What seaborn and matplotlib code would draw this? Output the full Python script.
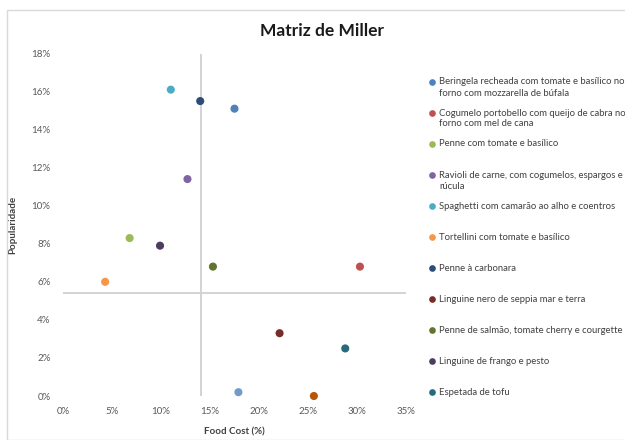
import textwrap

import matplotlib
matplotlib.use("Agg")
import matplotlib.pyplot as plt
from matplotlib.patches import Rectangle
import pandas as pd
import seaborn as sns

# Menu engineering data: food cost (%) vs. popularity (%) per dish
pratos = [
    "Beringela recheada com tomate e basílico no forno com mozzarella de búfala",
    "Cogumelo portobello com queijo de cabra no forno com mel de cana",
    "Penne com tomate e basílico",
    "Ravioli de carne, com cogumelos, espargos e rúcula",
    "Spaghetti com camarão ao alho e coentros",
    "Tortellini com tomate e basílico",
    "Penne à carbonara",
    "Linguine nero de seppia mar e terra",
    "Penne de salmão, tomate cherry e courgette",
    "Linguine de frango e pesto",
    "Espetada de tofu",
    "Prato 12",
    "Prato 13",
]
food_cost = [17.5, 30.3, 6.8, 12.7, 11.0, 4.3, 14.0, 22.1, 15.3, 9.9, 28.8, 17.9, 25.6]
popularidade = [15.1, 6.8, 8.3, 11.4, 16.1, 6.0, 15.5, 3.3, 6.8, 7.9, 2.5, 0.2, 0.0]
cores = [
    "#4F81BD", "#C0504D", "#9BBB59", "#8064A2", "#4BACC6", "#F79646",
    "#2C4D75", "#772C2A", "#5F7530", "#4D3B62", "#276A7C", "#729ACA", "#B65708",
]
n_legenda = 11  # entries shown in the legend box

# Quadrant thresholds (average food cost, 70% of the mean popularity)
limite_custo = 14.1
limite_popularidade = 5.4

x_ticks = [0, 5, 10, 15, 20, 25, 30, 35]
y_ticks = [0, 2, 4, 6, 8, 10, 12, 14, 16, 18]

sns.set_style("white")
plt.rcParams["font.family"] = ["Lato", "DejaVu Sans"]

W, H = 625, 440
fig = plt.figure(figsize=(W / 100, H / 100), dpi=100)

# light chart border
fig.add_artist(Rectangle((7 / W, 0), 1, 1 - 10 / H, transform=fig.transFigure,
                         fill=False, edgecolor="#D9D9D9", linewidth=1.0))

ax = fig.add_axes([63 / W, 1 - 396 / H, (406 - 63) / W, (396 - 53.5) / H])

df = pd.DataFrame({"prato": pratos, "food_cost": food_cost, "popularidade": popularidade})

ax.vlines(limite_custo, 0, 18, color="#D0D0D0", linewidth=1.3, zorder=1)
ax.hlines(limite_popularidade, 0, 35, color="#D0D0D0", linewidth=1.3, zorder=1)

sns.scatterplot(data=df, x="food_cost", y="popularidade", hue="prato",
                palette=dict(zip(pratos, cores)), s=34, linewidth=0,
                legend=False, ax=ax, zorder=3, clip_on=False)

ax.set_xlim(0, 35)
ax.set_ylim(0, 18)
ax.set_xticks(x_ticks)
ax.set_yticks(y_ticks)
ax.set_xticklabels([f"{v}%" for v in x_ticks])
ax.set_yticklabels([f"{v}%" for v in y_ticks])
ax.tick_params(axis="both", length=0, labelsize=7, labelcolor="#595959")
ax.tick_params(axis="x", pad=8)
ax.tick_params(axis="y", pad=9)
for s in ax.spines.values():
    s.set_visible(False)

ax.set_xlabel("Food Cost (%)", fontsize=7, fontweight="bold", color="#404040", labelpad=8)
ax.set_ylabel("Popularidade", fontsize=7, fontweight="bold", color="#404040", labelpad=10)

fig.text(322 / W, 1 - 31 / H, "Matriz de Miller", ha="center", va="center",
         fontsize=12.5, fontweight="bold", color="#1A1A1A")

# Legend column on the right
y0, passo, entrelinha = 82, 31, 11
for i in range(n_legenda):
    y = y0 + i * passo
    fig.add_artist(plt.Line2D([432 / W], [1 - y / H], marker="o", markersize=4.8,
                              markeredgewidth=0, color=cores[i], transform=fig.transFigure))
    for j, linha in enumerate(textwrap.wrap(pratos[i], 43)):
        fig.text(439 / W, 1 - (y + j * entrelinha) / H, linha, ha="left", va="center",
                 fontsize=6.8, color="#404040")

fig.savefig("out.png", dpi=100)
